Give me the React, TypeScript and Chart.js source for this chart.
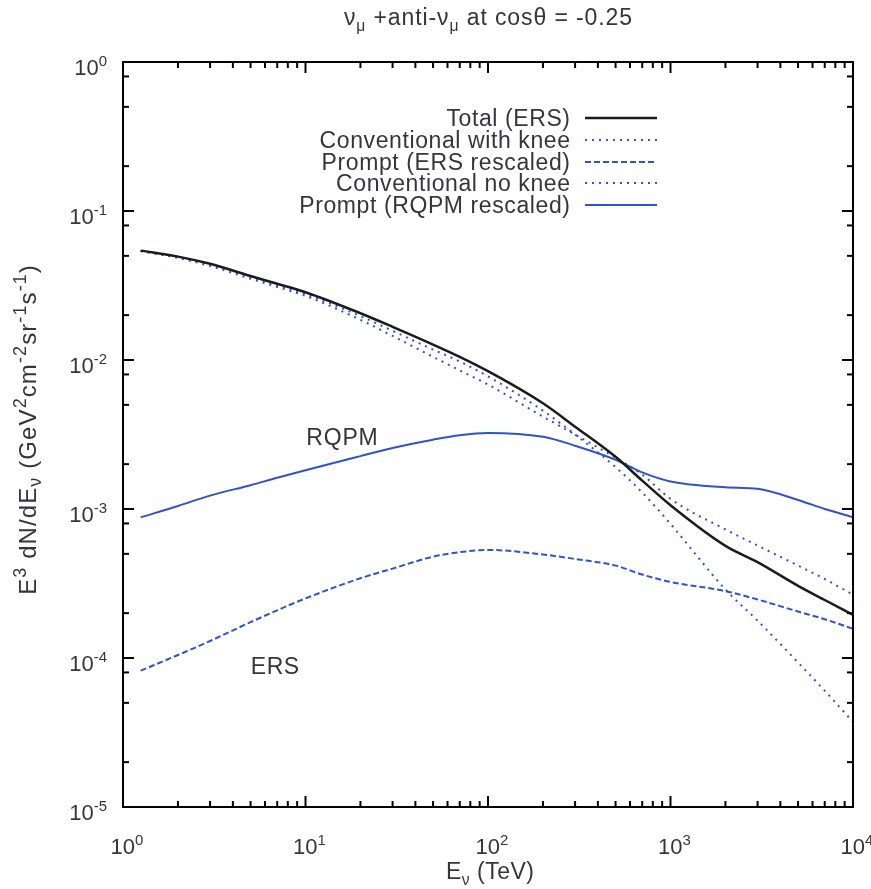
import React, { useEffect, useRef } from 'react';
import { Chart, registerables } from 'chart.js';

Chart.register(...registerables);

// ---- data ----
const energies = [1.25, 2, 3, 5, 7, 10, 20, 30, 50, 70, 100, 200, 300, 500, 700, 1000, 2000, 3000, 5000, 7000, 10000];

const totalERS = [0.0542, 0.0494, 0.0442, 0.0366, 0.0325, 0.0285, 0.0206, 0.0167, 0.0127, 0.0105, 0.00841, 0.00512, 0.00357, 0.00224, 0.00155, 0.00106, 0.000566, 0.00044, 0.000305, 0.000245, 0.000195];
const convWithKnee = [0.054, 0.0492, 0.0437, 0.0361, 0.0318, 0.0277, 0.0197, 0.0157, 0.01175, 0.00977, 0.00776, 0.00457, 0.00316, 0.00191, 0.00129, 0.000794, 0.000288, 0.000178, 0.0000933, 0.0000603, 0.0000372];
const promptERS = [0.0000822, 0.0001047, 0.00013, 0.000174, 0.000209, 0.000251, 0.000343, 0.000398, 0.000479, 0.000513, 0.000531, 0.000495, 0.000462, 0.000417, 0.000363, 0.000324, 0.000281, 0.000247, 0.000205, 0.000182, 0.000157];
const convNoKnee = [0.0537, 0.0484, 0.0427, 0.0351, 0.0309, 0.0269, 0.0186, 0.0145, 0.0105, 0.00851, 0.00684, 0.00417, 0.00316, 0.00221, 0.0017, 0.00117, 0.000729, 0.000569, 0.000417, 0.000339, 0.000266];
const promptRQPM = [0.000879, 0.001047, 0.00123, 0.001445, 0.00162, 0.00182, 0.002265, 0.00257, 0.00292, 0.00313, 0.00324, 0.00305, 0.00266, 0.00214, 0.00176, 0.00153, 0.0014, 0.001365, 0.00115, 0.001, 0.000881];

const seriesLabels = ['Total (ERS)', 'Conventional with knee', 'Prompt (ERS rescaled)', 'Conventional no knee', 'Prompt (RQPM rescaled)'];

const xMajorExponents = [0, 1, 2, 3, 4];
const yMajorExponents = [0, -1, -2, -3, -4, -5];
const xMinorMultipliers = [2, 3, 4, 5, 6, 7, 8, 9];
const yMinorMultipliers = [2, 5, 8];

const FONT = '"Liberation Sans", Arial, Helvetica, sans-serif';
const TEXT = '#35353d';
const BLUE = '#3152c9';
const BLACK = '#1b1b1b';

type Seg = { t: string; m?: 'sup' | 'sub' };

function segFont(size: number, m?: string, supScale = 0.68) {
  const s = m ? size * supScale : size;
  return `${s}px ${FONT}`;
}

function richWidth(ctx: CanvasRenderingContext2D, segs: Seg[], size: number, supScale: number) {
  let w = 0;
  for (const s of segs) {
    ctx.font = segFont(size, s.m, supScale);
    w += ctx.measureText(s.t).width;
  }
  return w;
}

// y = vertical middle of the base text
function drawRich(
  ctx: CanvasRenderingContext2D,
  segs: Seg[],
  x: number,
  y: number,
  size: number,
  align: 'left' | 'center' | 'right',
  spacing = 0,
  supScale = 0.68
) {
  (ctx as any).letterSpacing = `${spacing}px`;
  const total = richWidth(ctx, segs, size, supScale) - spacing;
  let cx = align === 'left' ? x : align === 'center' ? x - total / 2 : x - total;
  const base = y + size * 0.36;
  ctx.textAlign = 'left';
  ctx.textBaseline = 'alphabetic';
  for (const s of segs) {
    ctx.font = segFont(size, s.m, supScale);
    const dy = s.m === 'sup' ? -size * 0.42 : s.m === 'sub' ? size * 0.24 : 0;
    ctx.fillText(s.t, cx, base + dy);
    cx += ctx.measureText(s.t).width;
  }
  (ctx as any).letterSpacing = '0px';
}

const decorPlugin = {
  id: 'decor',
  afterDraw(chart: any) {
    const ctx: CanvasRenderingContext2D = chart.ctx;
    const xs = chart.scales.x;
    const ys = chart.scales.y;
    const { left, right, top, bottom } = chart.chartArea;
    ctx.save();

    // frame
    ctx.strokeStyle = '#000';
    ctx.lineWidth = 2;
    ctx.strokeRect(left, top, right - left, bottom - top);

    // ticks (inward, mirrored)
    const tick = (x1: number, y1: number, x2: number, y2: number) => {
      ctx.beginPath();
      ctx.moveTo(x1, y1);
      ctx.lineTo(x2, y2);
      ctx.stroke();
    };
    const majorLen = 11;
    const minorLen = 6;
    xMajorExponents.forEach((e) => {
      const px = xs.getPixelForValue(Math.pow(10, e));
      tick(px, bottom, px, bottom - majorLen);
      tick(px, top, px, top + majorLen);
      if (e < 4) {
        xMinorMultipliers.forEach((m) => {
          const mx = xs.getPixelForValue(m * Math.pow(10, e));
          tick(mx, bottom, mx, bottom - minorLen);
          tick(mx, top, mx, top + minorLen);
        });
      }
    });
    yMajorExponents.forEach((e) => {
      const py = ys.getPixelForValue(Math.pow(10, e));
      tick(left, py, left + majorLen, py);
      tick(right, py, right - majorLen, py);
      if (e > -5) {
        yMinorMultipliers.forEach((m) => {
          const my = ys.getPixelForValue(m * Math.pow(10, e - 1));
          tick(left, my, left + minorLen, my);
          tick(right, my, right - minorLen, my);
        });
      }
    });

    ctx.fillStyle = TEXT;
    const fs = 22;
    // y tick labels
    yMajorExponents.forEach((e) => {
      const py = ys.getPixelForValue(Math.pow(10, e));
      drawRich(ctx, [{ t: '10' }, { t: String(e), m: 'sup' }], left - 16, py + 5, fs, 'right');
    });
    // x tick labels
    xMajorExponents.forEach((e) => {
      const px = xs.getPixelForValue(Math.pow(10, e));
      drawRich(ctx, [{ t: '10' }, { t: String(e), m: 'sup' }], px + 4, bottom + 39, fs, 'center');
    });

    // title
    drawRich(
      ctx,
      [{ t: 'ν' }, { t: 'μ', m: 'sub' }, { t: ' +anti-ν' }, { t: 'μ', m: 'sub' }, { t: ' at cosθ = -0.25' }],
      488,
      17,
      23,
      'center',
      0.9
    );

    // x axis title
    drawRich(ctx, [{ t: 'E' }, { t: 'ν', m: 'sub' }, { t: ' (TeV)' }], 490, bottom + 64, 23, 'center', 0.5);

    // y axis title (rotated)
    ctx.save();
    ctx.translate(27, 430);
    ctx.rotate(-Math.PI / 2);
    drawRich(
      ctx,
      [
        { t: 'E' }, { t: '3', m: 'sup' }, { t: ' dN/dE' }, { t: 'ν', m: 'sub' }, { t: ' (GeV' }, { t: '2', m: 'sup' },
        { t: 'cm' }, { t: '-2', m: 'sup' }, { t: 'sr' }, { t: '-1', m: 'sup' }, { t: 's' }, { t: '-1', m: 'sup' }, { t: ')' },
      ],
      0,
      0,
      24,
      'center',
      1.1,
      0.75
    );
    ctx.restore();

    // in-plot labels
    drawRich(ctx, [{ t: 'RQPM' }], 342, 437, 23, 'center', 0.8);
    drawRich(ctx, [{ t: 'ERS' }], 275, 666, 23, 'center', 0.5);

    // legend
    const textRight = 570;
    const lineX1 = 585;
    const lineX2 = 657;
    const rowY = [118, 140, 162, 183, 205];
    chart.data.datasets.forEach((ds: any, i: number) => {
      const y = rowY[i];
      ctx.fillStyle = TEXT;
      drawRich(ctx, [{ t: ds.label }], textRight, y, 23, 'right', 0.6);
      ctx.save();
      ctx.strokeStyle = ds.borderColor;
      ctx.lineWidth = ds.borderWidth;
      ctx.setLineDash(ds.borderDash || []);
      ctx.beginPath();
      ctx.moveTo(lineX1, y);
      ctx.lineTo(lineX2, y);
      ctx.stroke();
      ctx.restore();
    });

    ctx.restore();
  },
};

function makeSeries(values: number[]) {
  return values.map((v, i) => ({ x: energies[i], y: v }));
}

export default function App() {
  const canvasRef = useRef<HTMLCanvasElement | null>(null);

  useEffect(() => {
    const canvas = canvasRef.current;
    if (!canvas) return;
    const common = {
      pointRadius: 0,
      fill: false,
      cubicInterpolationMode: 'monotone' as const,
      borderCapStyle: 'butt' as const,
    };
    const chart = new Chart(canvas, {
      type: 'line',
      data: {
        datasets: [
          { ...common, label: seriesLabels[0], data: makeSeries(totalERS), borderColor: BLACK, borderWidth: 2.5, borderDash: [] },
          { ...common, label: seriesLabels[1], data: makeSeries(convWithKnee), borderColor: BLUE, borderWidth: 2, borderDash: [2, 5] },
          { ...common, label: seriesLabels[2], data: makeSeries(promptERS), borderColor: BLUE, borderWidth: 2, borderDash: [6, 3] },
          { ...common, label: seriesLabels[3], data: makeSeries(convNoKnee), borderColor: BLUE, borderWidth: 2, borderDash: [2, 5] },
          { ...common, label: seriesLabels[4], data: makeSeries(promptRQPM), borderColor: BLUE, borderWidth: 2, borderDash: [] },
        ],
      },
      options: {
        responsive: false,
        animation: false,
        devicePixelRatio: 1,
        layout: { padding: { left: 123, top: 62, right: 18, bottom: 82 } },
        scales: {
          x: { type: 'logarithmic', min: 1, max: 10000, display: false },
          y: { type: 'logarithmic', min: 1e-5, max: 1, display: false },
        },
        plugins: {
          legend: { display: false },
          tooltip: { enabled: false },
          title: { display: false },
        },
      },
      plugins: [decorPlugin],
    });
    return () => chart.destroy();
  }, []);

  return (
    <div style={{ position: 'absolute', left: 0, top: 0, width: 871, height: 889, background: '#fff' }}>
      <canvas ref={canvasRef} width={871} height={889} />
    </div>
  );
}
